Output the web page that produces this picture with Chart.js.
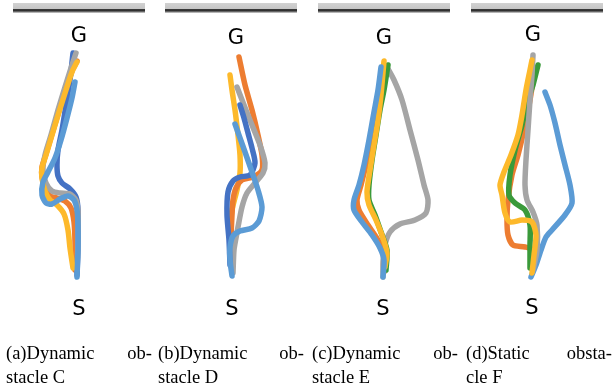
<!DOCTYPE html>
<html>
<head>
<meta charset="utf-8">
<script src="https://cdn.jsdelivr.net/npm/chart.js@4/dist/chart.umd.min.js"></script>
<style>
  html, body { margin: 0; padding: 0; background: #fff; }
  #wrap { position: relative; width: 612px; height: 390px; overflow: hidden; }
  #plot { position: absolute; left: 0; top: 0; }
  .bar { position: absolute; top: 3px; height: 10px; width: 132px;
         background: linear-gradient(#d2d2d2 0, #c6c6c6 55%, #3a3a3a 62%, #2e2e2e 78%, #dcdcdc 100%); }
  .lbl { position: absolute; font-family: "DejaVu Sans", sans-serif; font-size: 21px; color: #000;
         transform: translate(-50%, -50%); line-height: 1; }
  .cap { position: absolute; top: 341px; width: 146px; font-family: "Liberation Serif", serif;
         font-size: 18.5px; line-height: 24px; color: #000; }
  .cap .row { display: flex; justify-content: space-between; }
</style>
</head>
<body>
<div id="wrap">
  <div class="bar" style="left:13px"></div>
  <div class="bar" style="left:165px"></div>
  <div class="bar" style="left:318px"></div>
  <div class="bar" style="left:471px"></div>
  <canvas id="plot" width="612" height="390"></canvas>
</div>
<script>
// panel captions, goal / start positions (page pixels)
const panelCaps = [
  ["(a)Dynamic", "ob-", "stacle C"],
  ["(b)Dynamic", "ob-", "stacle D"],
  ["(c)Dynamic", "ob-", "stacle E"],
  ["(d)Static", "obsta-", "cle F"],
];
const capLeft = [6, 158, 312, 466];
const goalPos = [[79, 35], [236, 37], [384, 37], [533, 34]];
const startPos = [[79, 308], [232, 308], [383, 308], [532, 307]];

const COLORS = {
  lblue: "#5B9BD5", dblue: "#4472C4", orange: "#ED7D31",
  gray: "#A5A5A5", yellow: "#FDB92B", green: "#3A9A3A",
};

// --- panel (a) trajectories, start -> goal ---
const aOrange = [[75,270],[75,242],[74,222],[71,208],[65,201],[57,198],[50,196],[45,189],[42,177],[42,167],[46,154],[52,134],[59,111],[66,89],[72,71],[77,61]];
const aYellow = [[73,268],[70,248],[68,230],[64,214],[57,205],[50,200],[45,191],[42,178],[42,168],[46,155],[52,135],[59,112],[66,90],[72,72],[77,62]];
const aGray = [[77,270],[78,240],[78,212],[76,200],[70,194],[60,193],[52,191],[46,183],[43,170],[45,155],[51,135],[58,110],[65,87],[71,68],[76,53]];
const aDblue = [[77,275],[78,245],[78,210],[76,197],[70,189],[62,183],[58,176],[57,165],[58,150],[62,130],[66,105],[70,80],[73,53]];
const aLblue = [[77,277],[78,250],[78,225],[77,210],[74,200],[68,196],[60,199],[52,204],[46,203],[42,195],[43,182],[48,172],[55,158],[61,140],[67,118],[72,98],[75,82]];

// --- panel (b) ---
const bOrange = [[232,267],[231,240],[232,215],[233,200],[236,188],[242,180],[253,177],[262,170],[262,155],[258,135],[252,110],[245,85],[239,57]];
const bYellow = [[232,273],[231,250],[230,230],[232,210],[237,190],[240,173],[240,155],[238,135],[235,110],[232,90],[230,75]];
const bGray = [[233,273],[234,250],[236,238],[238,227],[242,207],[247,193],[255,183],[263,173],[265,163],[260,145],[252,125],[244,105],[237,87]];
const bDblue = [[230,265],[229,240],[227,215],[228,192],[233,181],[240,177],[250,175],[255,163],[252,148],[248,133],[244,118],[240,105]];
const bLblue = [[232,276],[230,260],[230,247],[233,236],[240,231],[252,228],[259,221],[262,207],[258,190],[252,172],[245,152],[240,138],[235,124]];

// --- panel (c) ---
const cGray = [[383,277],[383,262],[385,245],[390,232],[400,224],[415,220],[426,213],[428,200],[424,185],[418,160],[410,130],[402,100],[394,80],[387,67]];
const cOrange = [[384,272],[384,255],[378,240],[368,225],[359,210],[357,200],[361,185],[366,165],[372,140],[377,110],[381,80]];
const cGreen = [[386,270],[387,250],[381,232],[375,215],[369,200],[369,185],[372,160],[376,135],[380,110],[384,90],[388,65]];
const cYellow = [[385,267],[387,253],[383,238],[376,220],[369,205],[367,192],[370,170],[374,145],[378,120],[381,95],[384,61]];
const cLblue = [[383,277],[384,260],[380,248],[372,235],[362,222],[354,210],[354,200],[359,185],[364,165],[369,140],[374,112],[378,90],[381,67]];

// --- panel (d) ---
const dLblue = [[531,277],[536,265],[541,250],[546,237],[552,230],[565,215],[572,203],[570,185],[565,165],[560,145],[555,123],[550,105],[545,92]];
const dOrange = [[532,268],[532,250],[525,247],[513,245],[508,235],[507,220],[508,200],[512,175],[518,155],[524,130],[530,100],[535,68]];
const dGreen = [[530,268],[530,245],[530,225],[525,210],[515,203],[509,195],[510,175],[515,150],[522,125],[528,100],[533,85],[538,65]];
const dGray = [[533,270],[537,250],[537,225],[533,212],[527,200],[525,185],[526,160],[528,130],[530,100],[532,75],[533,55]];
const dYellow = [[532,273],[534,255],[536,235],[532,222],[522,220],[510,222],[505,213],[502,195],[500,185],[504,172],[511,155],[518,135],[522,115],[526,90],[530,70],[532,60]];

// listed bottom -> top; Chart.js paints dataset 0 last, so reverse
const tracks = [
  [aOrange, "orange"], [aDblue, "dblue"], [aGray, "gray"], [aYellow, "yellow"], [aLblue, "lblue"],
  [bYellow, "yellow"], [bOrange, "orange"], [bGray, "gray"], [bDblue, "dblue"], [bLblue, "lblue"],
  [cGray, "gray"], [cOrange, "orange"], [cGreen, "green"], [cYellow, "yellow"], [cLblue, "lblue"],
  [dLblue, "lblue"], [dOrange, "orange"], [dGreen, "green"], [dGray, "gray"], [dYellow, "yellow"],
].reverse();

new Chart(document.getElementById("plot"), {
  type: "scatter",
  data: {
    datasets: tracks.map(([pts, c]) => ({
      data: pts.map(([x, y]) => ({ x, y })),
      showLine: true,
      borderColor: COLORS[c],
      backgroundColor: COLORS[c],
      borderWidth: 5.5,
      pointRadius: 0,
      tension: 0.25,
      borderCapStyle: "round",
      borderJoinStyle: "round",
    })),
  },
  options: {
    responsive: false,
    animation: false,
    layout: { padding: 0 },
    plugins: { legend: { display: false }, tooltip: { enabled: false } },
    scales: {
      x: { type: "linear", min: 0, max: 612, display: false },
      y: { type: "linear", min: 0, max: 390, reverse: true, display: false },
    },
  },
});

// text overlays
const wrap = document.getElementById("wrap");
goalPos.forEach(([x, y], i) => {
  const g = document.createElement("div");
  g.className = "lbl"; g.textContent = "G";
  g.style.left = x + "px"; g.style.top = y + "px";
  wrap.appendChild(g);
  const s = document.createElement("div");
  s.className = "lbl"; s.textContent = "S";
  s.style.left = startPos[i][0] + "px"; s.style.top = startPos[i][1] + "px";
  wrap.appendChild(s);
});
panelCaps.forEach(([first, hyph, second], i) => {
  const c = document.createElement("div");
  c.className = "cap";
  c.style.left = capLeft[i] + "px";
  c.innerHTML = `<div class="row"><span>${first}</span><span>${hyph}</span></div><div>${second}</div>`;
  wrap.appendChild(c);
});
</script>
</body>
</html>
